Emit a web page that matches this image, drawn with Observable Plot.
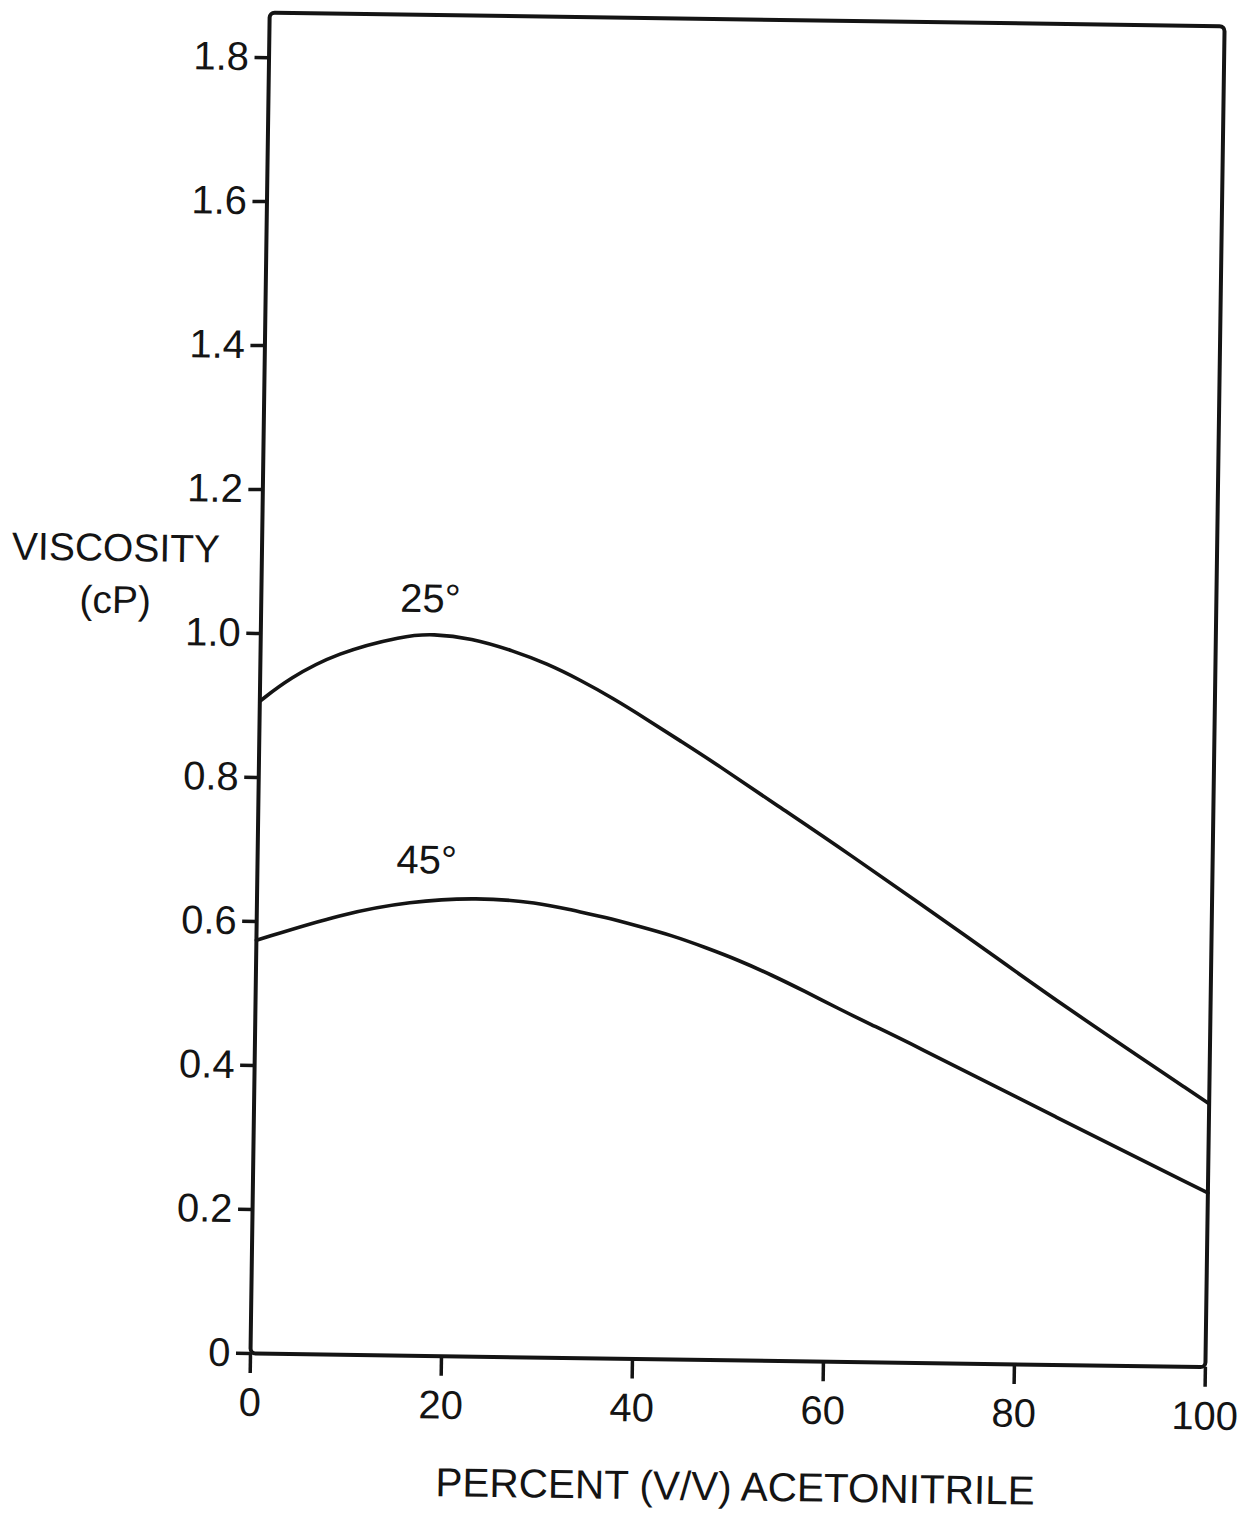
<!DOCTYPE html>
<html>
<head>
<meta charset="utf-8">
<script src="https://cdn.jsdelivr.net/npm/d3@7"></script>
<script src="https://cdn.jsdelivr.net/npm/@observablehq/plot@0.6"></script>
<style>
  html, body { margin: 0; padding: 0; background: #fff; }
  #chart { width: 1247px; height: 1513px; overflow: hidden; }
</style>
</head>
<body>
<div id="chart"></div>
<script>
// ---- data ----
const pct25  = [0, 3, 8, 15, 18, 22, 26.5, 30, 33.5, 37, 40.5, 44, 48, 54.5, 61, 75, 84, 100];
const visc25 = [0.906, 0.938, 0.975, 1.0, 1.003, 0.998, 0.981, 0.964, 0.942, 0.917, 0.889, 0.860, 0.827, 0.770, 0.714, 0.588, 0.504, 0.366];

const pct45  = [0, 9, 16, 23, 29.5, 33, 36.5, 40, 43.5, 47, 50.5, 54, 57.5, 61, 64.5, 68, 84, 100];
const visc45 = [0.574, 0.613, 0.631, 0.638, 0.632, 0.622, 0.613, 0.601, 0.589, 0.573, 0.556, 0.536, 0.514, 0.491, 0.469, 0.448, 0.344, 0.242];

const xTicks = [0, 20, 40, 60, 80, 100];
const yTicks = [0, 0.2, 0.4, 0.6, 0.8, 1.0, 1.2, 1.4, 1.6, 1.8];
const yTickLabels = ["0", "0.2", "0.4", "0.6", "0.8", "1.0", "1.2", "1.4", "1.6", "1.8"];

const seriesNames = ["25°", "45°"];
const labelPct  = [17.7, 17.7];
const labelVisc = [1.051, 0.688];

const xTitle = "PERCENT (V/V) ACETONITRILE";
const yTitle = "VISCOSITY\n(cP)";

// ---- build tables ----
const rows = [
  ...pct25.map((x, i) => ({series: seriesNames[0], x, y: visc25[i]})),
  ...pct45.map((x, i) => ({series: seriesNames[1], x, y: visc45[i]}))
];
const labels = seriesNames.map((s, i) => ({text: s, x: labelPct[i], y: labelVisc[i]}));

const ink = "#141414";
const textFont = "'Liberation Sans', Arial, sans-serif";

const chart = Plot.plot({
  width: 1247,
  height: 1513,
  marginLeft: 250,
  marginRight: 42,
  marginTop: 12,
  marginBottom: 160,
  style: {fontFamily: textFont, fontSize: "40px", color: ink, background: "#fff", overflow: "visible"},
  x: {domain: [0, 100]},
  y: {domain: [0, 1.8625]},
  marks: [
    Plot.frame({stroke: ink, strokeWidth: 4, rx: 5}),
    Plot.axisX({ticks: xTicks, tickSize: 20, tickPadding: 14, strokeWidth: 3.5, label: null,
      fontSize: 40, tickFormat: d => String(d)}),
    Plot.axisY({ticks: yTicks, tickSize: 14, tickPadding: 6, strokeWidth: 3.5, label: null,
      fontSize: 40, tickFormat: d => yTickLabels[yTicks.indexOf(d)]}),
    Plot.line(rows, {x: "x", y: "y", z: "series", curve: "basis", stroke: ink, strokeWidth: 3.6}),
    Plot.text(labels, {x: "x", y: "y", text: "text", fontSize: 40, fontFamily: textFont,
      fill: ink, textAnchor: "middle", lineAnchor: "middle"}),
    Plot.text([yTitle], {frameAnchor: "left", y: 1.085, text: d => d, dx: -146, fontSize: 39,
      fontFamily: textFont, fill: ink, textAnchor: "middle", lineAnchor: "middle", lineHeight: 1.34}),
    Plot.text([xTitle], {frameAnchor: "bottom", text: d => d, dx: 9, dy: 127, fontSize: 40.5,
      fontFamily: textFont, fill: ink, textAnchor: "middle", lineAnchor: "middle"})
  ]
});

// the scanned figure is turned slightly clockwise; follow it
chart.style.transformOrigin = "250px 1353px";
chart.style.transform = "rotate(0.82deg)";

document.getElementById("chart").appendChild(chart);
</script>
</body>
</html>
